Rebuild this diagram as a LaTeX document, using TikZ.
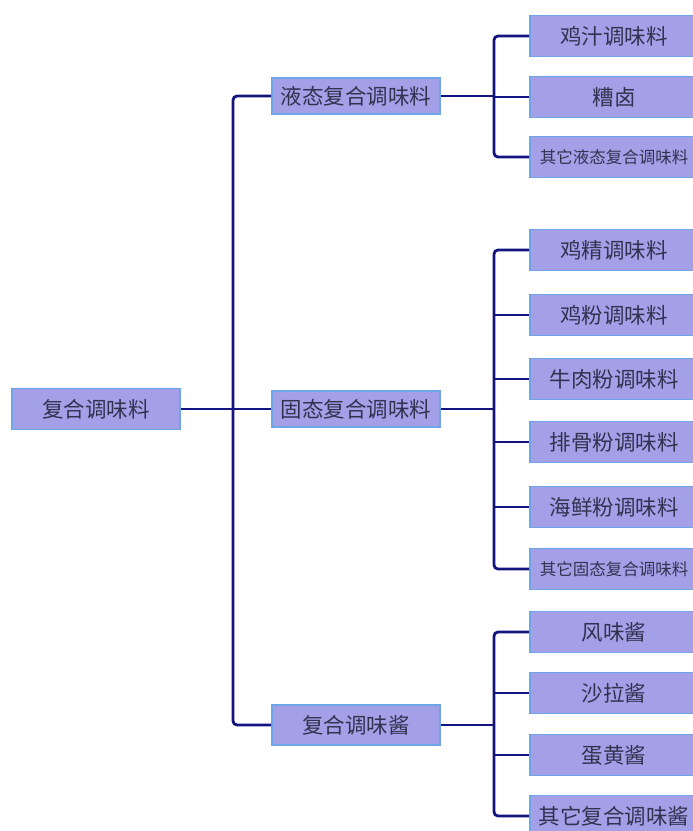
\documentclass[tikz,border=0pt]{standalone}
\usepackage{fontspec}
\newfontfamily\cjk{Noto Sans CJK SC}
\definecolor{boxfill}{RGB}{164,160,232}
\definecolor{boxline}{RGB}{110,165,230}
\definecolor{connline}{RGB}{20,20,128}
\definecolor{txt}{RGB}{50,50,80}
\tikzset{
  nbox/.style={draw=boxline, fill=boxfill, line width=1.6pt, inner sep=0pt, text=txt,
    font=\cjk\fontsize{21.5}{23}\selectfont, anchor=center},
  rootbox/.style={nbox, minimum width=168pt, minimum height=41pt},
  midbox/.style={nbox, minimum width=168pt, minimum height=36pt},
  leafbox/.style={nbox, minimum width=168pt, minimum height=41pt, text width=164pt, align=center},
  smalltext/.style={font=\cjk\fontsize{16.5}{18}\selectfont},
  conn/.style={draw=connline, line width=2.8pt, rounded corners=4pt},
}
\begin{document}
\begin{tikzpicture}[x=1pt,y=-1pt]
\useasboundingbox (0,0) rectangle (693,831);
% root
\node[rootbox] (root) at (96,409) {复合调味料};
% level 2
\node[midbox] (la) at (356,96) {液态复合调味料};
\node[midbox] (lb) at (356,409) {固态复合调味料};
\node[midbox, minimum height=40pt] (lc) at (356,725) {复合调味酱};
% leaves group A
\node[leafbox] (a1) at (614,36) {鸡汁调味料};
\node[leafbox] (a2) at (614,97) {糟卤};
\node[leafbox, smalltext] (a3) at (614,157) {其它液态复合调味料};
% leaves group B
\node[leafbox] (b1) at (614,250) {鸡精调味料};
\node[leafbox] (b2) at (614,315) {鸡粉调味料};
\node[leafbox] (b3) at (614,379) {牛肉粉调味料};
\node[leafbox] (b4) at (614,442) {排骨粉调味料};
\node[leafbox] (b5) at (614,507) {海鲜粉调味料};
\node[leafbox, smalltext] (b6) at (614,569) {其它固态复合调味料};
% leaves group C
\node[leafbox] (c1) at (614,632) {风味酱};
\node[leafbox] (c2) at (614,693) {沙拉酱};
\node[leafbox] (c3) at (614,755) {蛋黄酱};
\node[leafbox] (c4) at (614,816) {其它复合调味酱};
% trunk
\coordinate (tx) at (233,0);
\draw[conn] (la.west) -| (tx |- lc.west) -- (lc.west);
\draw[conn] (root.east) -- (lb.west);
% bars
\coordinate (bx) at (494,0);
\draw[conn] (a1.west) -| (bx |- a3.west) -- (a3.west);
\draw[conn] (la.east) -- (bx |- la.east);
\draw[conn] (bx |- a2.west) -- (a2.west);
\draw[conn] (b1.west) -| (bx |- b6.west) -- (b6.west);
\draw[conn] (lb.east) -- (bx |- lb.east);
\foreach \n in {b2,b3,b4,b5} \draw[conn] (bx |- \n.west) -- (\n.west);
\draw[conn] (c1.west) -| (bx |- c4.west) -- (c4.west);
\draw[conn] (lc.east) -- (bx |- lc.east);
\foreach \n in {c2,c3} \draw[conn] (bx |- \n.west) -- (\n.west);
\end{tikzpicture}
\end{document}
